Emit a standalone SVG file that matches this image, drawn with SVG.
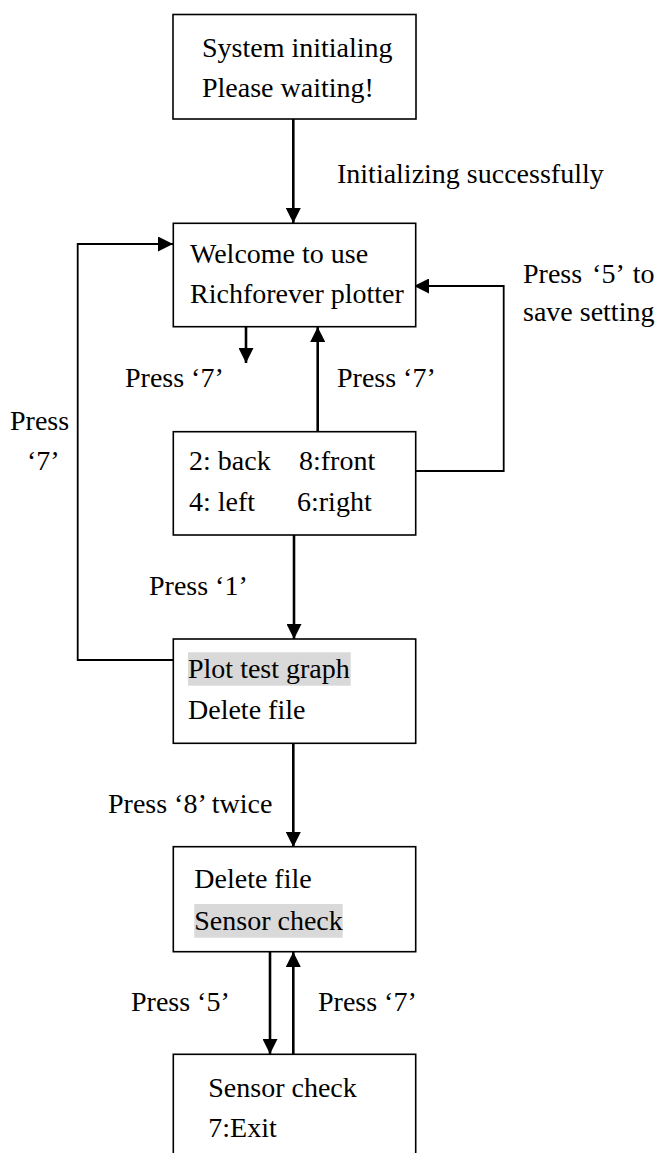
<svg xmlns="http://www.w3.org/2000/svg" width="661" height="1153" viewBox="0 0 661 1153">
<style>
.box{fill:#fff;stroke:#000;stroke-width:1.6}
.hl{fill:#d9d9d9;stroke:none}
text{font-family:"Liberation Serif","Times New Roman",serif;font-size:28px;fill:#000}
.c{fill:none;stroke:#000;stroke-width:2.6}
.t{fill:none;stroke:#000;stroke-width:1.8}
</style>
<defs>
<marker id="ah" markerUnits="userSpaceOnUse" markerWidth="15" markerHeight="15" refX="15" refY="7.5" orient="auto" viewBox="0 0 15 15">
<path d="M0,0 L15,7.5 L0,15 z" fill="#000"/>
</marker>
</defs>
<rect width="661" height="1153" fill="#fff"/>
<g id="connectors">
<path class="c" d="M293.3,119 V223" marker-end="url(#ah)"/>
<path class="c" d="M246,327 V363" marker-end="url(#ah)"/>
<path class="c" d="M317.7,432 V327" marker-end="url(#ah)"/>
<path class="t" d="M416,471 H503.7 V286 H414" marker-end="url(#ah)"/>
<path class="c" d="M294,535 V639" marker-end="url(#ah)"/>
<path class="t" d="M173,660 H77.7 V244 H173" marker-end="url(#ah)"/>
<path class="c" d="M293.3,743 V847" marker-end="url(#ah)"/>
<path class="c" d="M270,952 V1054" marker-end="url(#ah)"/>
<path class="c" d="M293.3,1054 V952" marker-end="url(#ah)"/>
</g>
<g id="labels">
<text x="337" y="183">Initializing successfully</text>
<text x="125" y="387">Press ‘7’</text>
<text x="337" y="387">Press ‘7’</text>
<text x="523" y="283" word-spacing="3">Press ‘5’ to</text>
<text x="523" y="321">save setting</text>
<text x="10" y="430">Press</text>
<text x="27" y="470">‘7’</text>
<text x="149" y="595">Press ‘1’</text>
<text x="108" y="813">Press ‘8’ twice</text>
<text x="131" y="1011">Press ‘5’</text>
<text x="318" y="1011">Press ‘7’</text>
</g>
<g id="node-init">
<rect class="box" x="173" y="14.5" width="243" height="104.5"/>
<text x="202" y="57">System initialing</text>
<text x="202" y="97">Please waiting!</text>
</g>
<g id="node-welcome">
<rect class="box" x="173.3" y="223.3" width="242.4" height="103.4"/>
<text x="190" y="263">Welcome to use</text>
<text x="190" y="303">Richforever plotter</text>
</g>
<g id="node-move">
<rect class="box" x="173.3" y="431.7" width="242.4" height="103.3"/>
<text x="189" y="470">2: back</text>
<text x="299" y="470">8:front</text>
<text x="189" y="511">4: left</text>
<text x="297" y="511">6:right</text>
</g>
<g id="node-plot">
<rect class="box" x="173.3" y="639" width="242.4" height="104.3"/>
<rect class="hl" x="188" y="652.3" width="162.7" height="33.4"/>
<text x="188" y="678">Plot test graph</text>
<text x="188" y="719">Delete file</text>
</g>
<g id="node-delete">
<rect class="box" x="173.3" y="846.7" width="242.4" height="105"/>
<rect class="hl" x="194.3" y="904" width="148.4" height="33.7"/>
<text x="194.3" y="888">Delete file</text>
<text x="194.3" y="930">Sensor check</text>
</g>
<g id="node-sensor">
<rect class="box" x="173.3" y="1054.3" width="242.4" height="110"/>
<text x="208.3" y="1097">Sensor check</text>
<text x="208.3" y="1137">7:Exit</text>
</g>
</svg>
